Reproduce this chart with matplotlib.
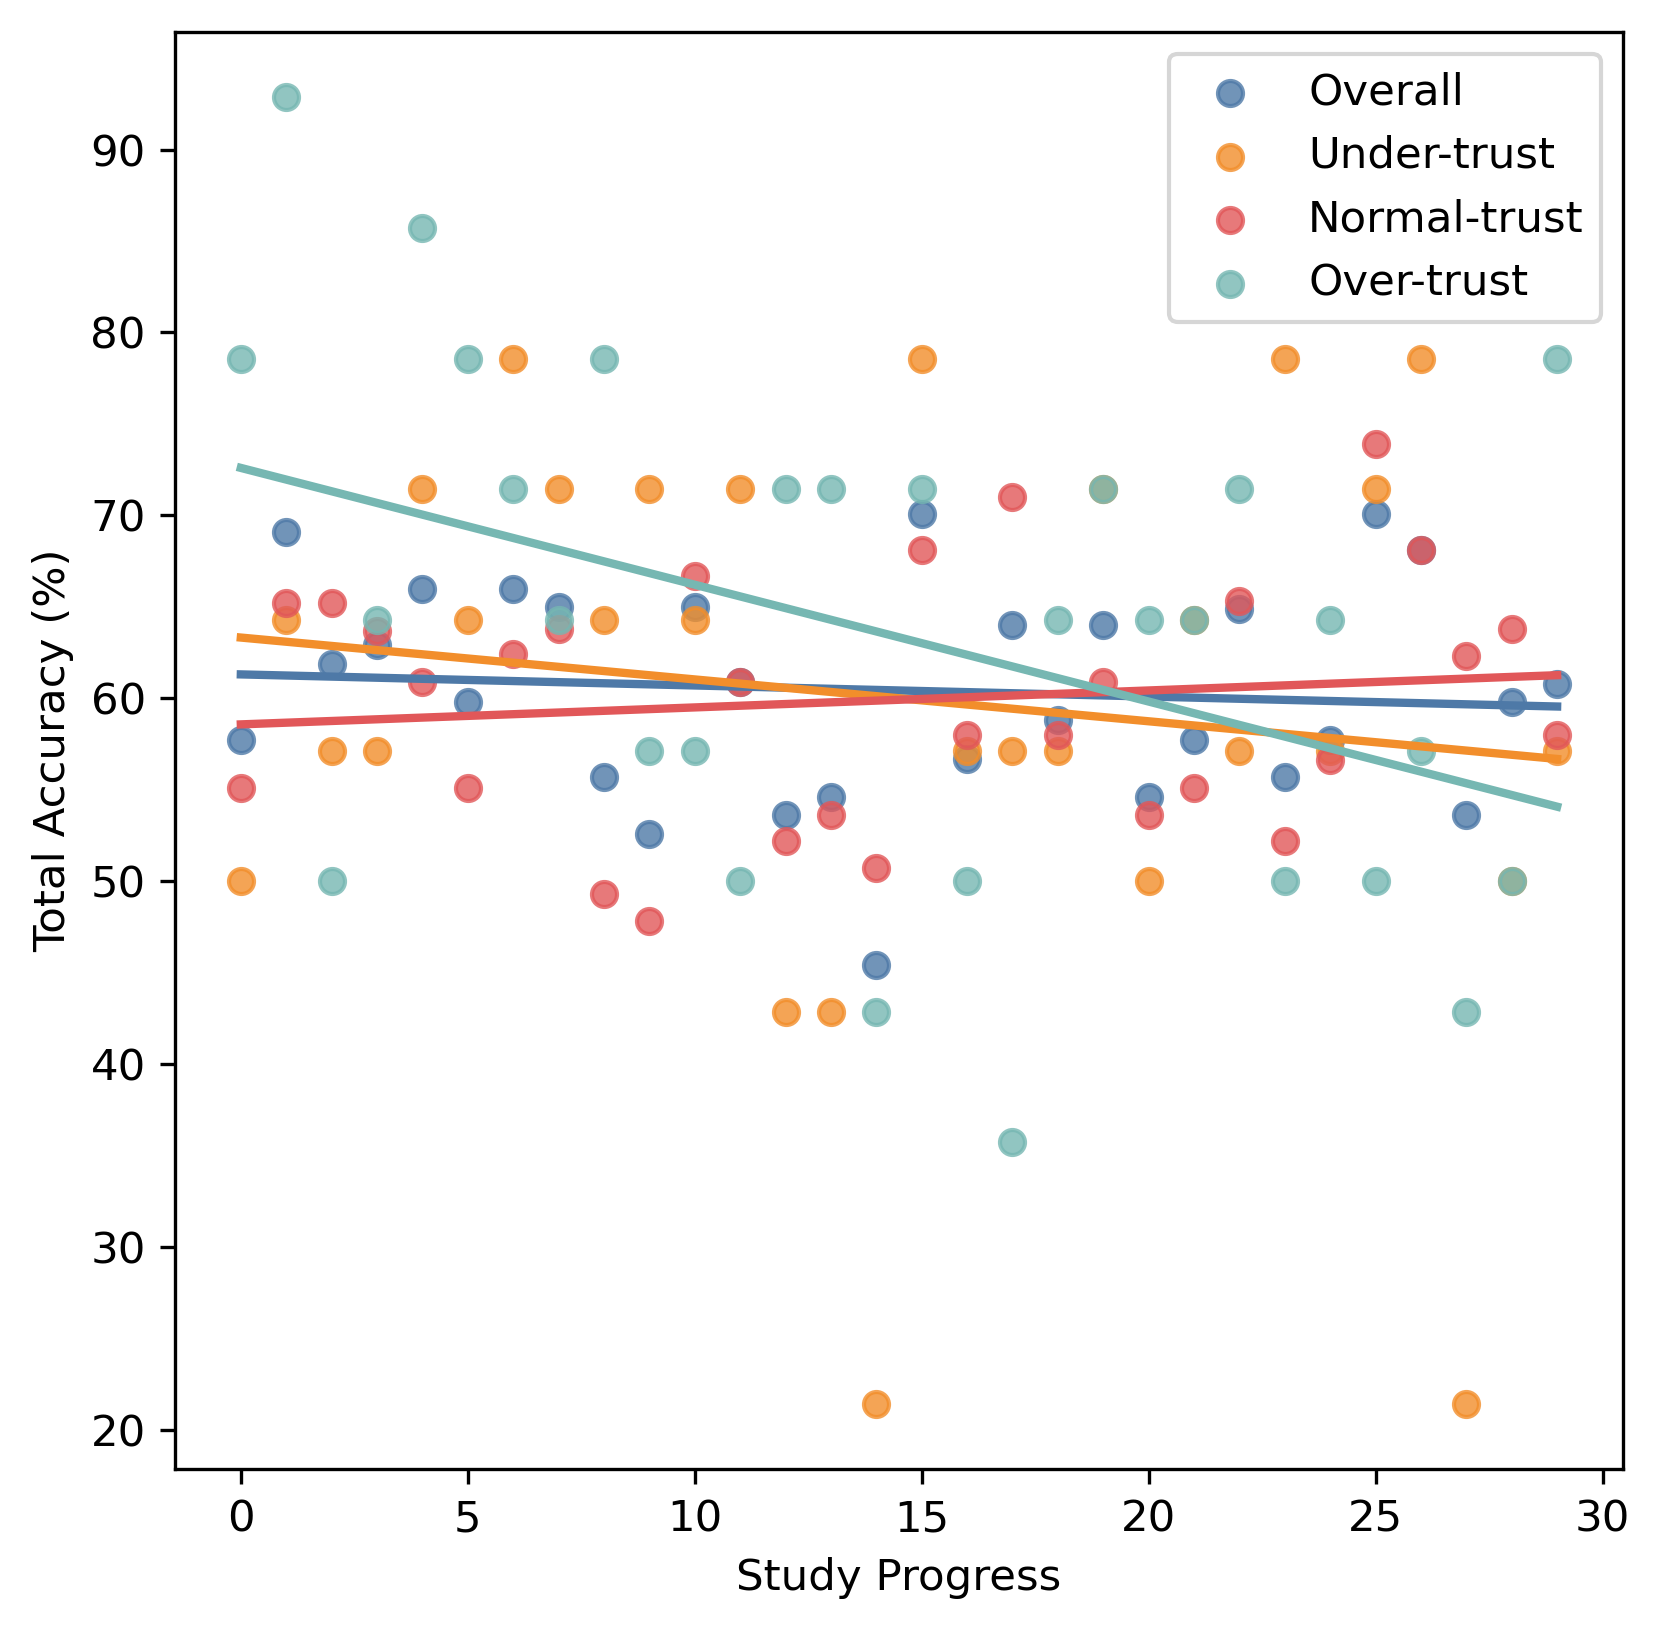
import numpy as np
import matplotlib
matplotlib.use("Agg")
import matplotlib.pyplot as plt

plt.rcParams['font.size'] = 10.45

# study progress index
progress = list(range(30))

overall = [57.7, 69.1, 61.9, 62.9, 66.0, 59.8, 66.0, 65.0, 55.7, 52.6,
           65.0, 60.9, 53.6, 54.6, 45.4, 70.1, 56.7, 64.0, 58.8, 64.0,
           54.6, 57.7, 64.9, 55.7, 57.7, 70.1, 68.1, 53.6, 59.8, 60.8]
under_trust = [50.0, 64.29, 57.14, 57.14, 71.43, 64.29, 78.57, 71.43, 64.29, 71.43,
               64.29, 71.43, 42.86, 42.86, 21.43, 78.57, 57.14, 57.14, 57.14, 71.43,
               50.0, 64.29, 57.14, 78.57, 57.14, 71.43, 78.57, 21.43, 50.0, 57.14]
normal_trust = [55.1, 65.2, 65.2, 63.7, 60.9, 55.1, 62.4, 63.8, 49.3, 47.8,
                66.7, 60.9, 52.2, 53.6, 50.7, 68.1, 58.0, 71.0, 58.0, 60.9,
                53.6, 55.1, 65.3, 52.2, 56.6, 73.9, 68.1, 62.3, 63.8, 58.0]
over_trust = [78.57, 92.86, 50.0, 64.29, 85.71, 78.57, 71.43, 64.29, 78.57, 57.14,
              57.14, 50.0, 71.43, 71.43, 42.86, 71.43, 50.0, 35.71, 64.29, 71.43,
              64.29, 64.29, 71.43, 50.0, 64.29, 50.0, 57.14, 42.86, 50.0, 78.57]

labels = ["Overall", "Under-trust", "Normal-trust", "Over-trust"]
colors = ["#4e79a7", "#f28e2b", "#e15759", "#76b7b2"]
series = [overall, under_trust, normal_trust, over_trust]

fig = plt.figure(figsize=(1662 / 300, 1632 / 300), dpi=300)
ax = fig.add_subplot(111)
fig.subplots_adjust(left=0.1053, right=0.9765, bottom=0.0999, top=0.9804)

x = np.array(progress)
for ys, c, lab in zip(series, colors, labels):
    ax.scatter(x, ys, color=c, alpha=0.8, label=lab)

# linear trend for every group
for ys, c in zip(series, colors):
    k, b = np.polyfit(x, ys, 1)
    ax.plot(x, k * x + b, color=c, linewidth=2)

ax.set_xlabel("Study Progress")
ax.set_ylabel("Total Accuracy (%)")
ax.legend(loc="upper right")

fig.savefig("out.png", dpi=300)
